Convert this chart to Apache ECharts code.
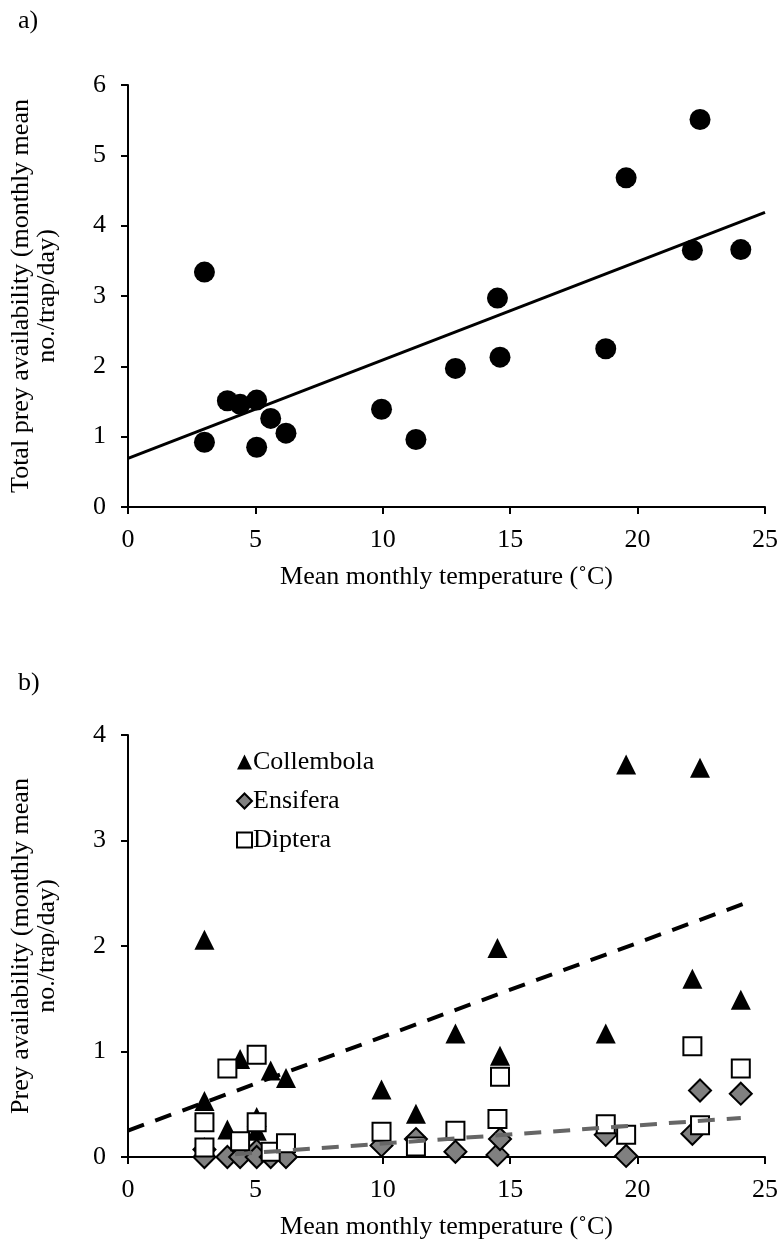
<!DOCTYPE html>
<html>
<head>
<meta charset="utf-8">
<script src="https://cdn.jsdelivr.net/npm/echarts@6/dist/echarts.min.js"></script>
<style>
  html, body { margin: 0; padding: 0; background: #fff; }
  #main { width: 783px; height: 1249px; }
</style>
</head>
<body>
<div id="main"></div>
<script>
var chart = echarts.init(document.getElementById('main'));

// mean monthly temperature (one value per month sampled)
var temps = [3.0, 3.0, 3.9, 4.4, 5.05, 5.05, 5.6, 6.2, 9.95, 11.3, 12.85, 14.5, 14.6, 18.75, 19.55, 22.15, 22.45, 24.05];
// a) total prey
var totalPrey = [3.34, 0.92, 1.51, 1.46, 1.52, 0.85, 1.26, 1.05, 1.39, 0.96, 1.97, 2.97, 2.13, 2.25, 4.68, 3.65, 5.51, 3.66];
// b) by taxon
var collembola = [2.06, 0.53, 0.26, 0.93, 0.38, 0.25, 0.82, 0.75, 0.64, 0.41, 1.17, 1.98, 0.96, 1.17, 3.72, 1.69, 3.69, 1.49];
var ensifera   = [0.07, 0.0, 0.0, 0.0, 0.06, 0.0, 0.0, 0.0, 0.11, 0.17, 0.05, 0.02, 0.17, 0.21, 0.01, 0.22, 0.63, 0.60];
var diptera    = [0.33, 0.09, 0.84, 0.15, 0.97, 0.33, 0.05, 0.13, 0.24, 0.10, 0.25, 0.36, 0.76, 0.31, 0.21, 1.05, 0.30, 0.84];

// linear trend lines: [intercept, slope, xFrom, xTo]
var trendTotal = [0.69, 0.14, 0, 25];
var trendColl  = [0.25, 0.089, 0, 24.4];
var trendEns   = [-0.046, 0.0173, 4.2, 24.05];

function pairs(xs, ys) {
    var res = [];
    for (var i = 0; i < xs.length; i++) res.push([xs[i], ys[i]]);
    return res;
}
function trend(t) {
    return [[t[2], t[0] + t[1] * t[2]], [t[3], t[0] + t[1] * t[3]]];
}

var font = 'Liberation Serif';
var txt = { color: '#000', fontFamily: font, fontSize: 26 };

function xAxis(idx) {
    return {
        gridIndex: idx, type: 'value', min: 0, max: 25, interval: 5,
        name: 'Mean monthly temperature (\u02DAC)',
        nameLocation: 'middle', nameGap: 57,
        nameTextStyle: txt,
        axisLine: { lineStyle: { color: '#000', width: 2 } },
        axisTick: { show: true, length: 7, lineStyle: { color: '#000', width: 2 } },
        axisLabel: Object.assign({ margin: 20 }, txt),
        splitLine: { show: false }
    };
}
function yAxis(idx, max, name) {
    return {
        gridIndex: idx, type: 'value', min: 0, max: max, interval: 1,
        name: name, nameLocation: 'middle', nameGap: 68, nameRotate: 90,
        nameTextStyle: Object.assign({ lineHeight: 26 }, txt),
        axisLine: { show: true, lineStyle: { color: '#000', width: 2 } },
        axisTick: { show: true, length: 7, lineStyle: { color: '#000', width: 2 } },
        axisLabel: Object.assign({ margin: 22 }, txt),
        splitLine: { show: false }
    };
}

var option = {
    backgroundColor: '#fff',
    animation: false,
    graphic: [
        { type: 'text', left: 18, top: 8, style: { text: 'a)', fill: '#000', font: '26px "Liberation Serif"' } },
        { type: 'text', left: 18, top: 670, style: { text: 'b)', fill: '#000', font: '26px "Liberation Serif"' } }
    ],
    grid: [
        { left: 127, top: 85, width: 638, height: 422 },
        { left: 127, top: 735, width: 638, height: 422 }
    ],
    legend: {
        data: ['Collembola', 'Ensifera', 'Diptera'],
        orient: 'vertical', left: 231, top: 744,
        itemWidth: 15, itemHeight: 15, itemGap: 13,
        textStyle: Object.assign({ padding: [0, 0, 0, -4] }, txt)
    },
    xAxis: [xAxis(0), xAxis(1)],
    yAxis: [
        yAxis(0, 6, 'Total prey availability (monthly mean\nno./trap/day)'),
        yAxis(1, 4, 'Prey availability (monthly mean\nno./trap/day)')
    ],
    series: [
        {
            name: 'Total', type: 'scatter', xAxisIndex: 0, yAxisIndex: 0,
            symbol: 'circle', symbolSize: 21,
            itemStyle: { color: '#000', opacity: 1 },
            data: pairs(temps, totalPrey)
        },
        {
            name: 'Total trend', type: 'line', xAxisIndex: 0, yAxisIndex: 0,
            symbol: 'none', lineStyle: { color: '#000', width: 3 },
            data: trend(trendTotal)
        },
        {
            name: 'Collembola', type: 'scatter', xAxisIndex: 1, yAxisIndex: 1,
            symbol: 'triangle', symbolSize: 20,
            itemStyle: { color: '#000', opacity: 1 },
            data: pairs(temps, collembola)
        },
        {
            name: 'Ensifera', type: 'scatter', xAxisIndex: 1, yAxisIndex: 1,
            symbol: 'diamond', symbolSize: 22,
            itemStyle: { color: '#808080', borderColor: '#000', borderWidth: 2, opacity: 1 },
            data: pairs(temps, ensifera)
        },
        {
            name: 'Diptera', type: 'scatter', xAxisIndex: 1, yAxisIndex: 1,
            symbol: 'rect', symbolSize: 18,
            itemStyle: { color: '#fff', borderColor: '#000', borderWidth: 2, opacity: 1 },
            data: pairs(temps, diptera)
        },
        {
            name: 'Collembola trend', type: 'line', xAxisIndex: 1, yAxisIndex: 1,
            symbol: 'none', lineStyle: { color: '#000', width: 4, type: [17, 12] },
            data: trend(trendColl)
        },
        {
            name: 'Ensifera trend', type: 'line', xAxisIndex: 1, yAxisIndex: 1,
            symbol: 'none', lineStyle: { color: '#666', width: 4, type: [17, 12] },
            data: trend(trendEns)
        }
    ]
};
chart.setOption(option);
</script>
</body>
</html>
